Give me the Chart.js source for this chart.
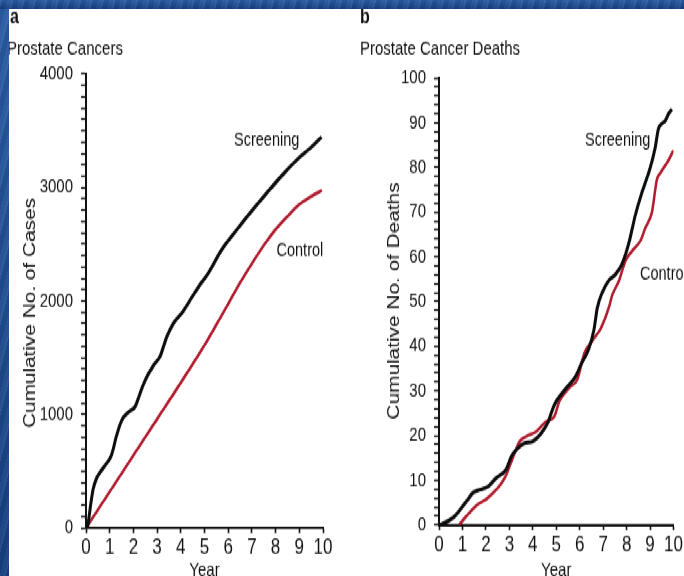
<!DOCTYPE html>
<html>
<head>
<meta charset="utf-8">
<script src="https://cdn.jsdelivr.net/npm/chart.js@4/dist/chart.umd.min.js"></script>
<style>
  html, body { margin: 0; padding: 0; }
  body { width: 684px; height: 576px; overflow: hidden; position: relative; background: #1f4f92; }
  .slide-bg, .edge-left, .edge-top {
    position: absolute;
    background-color: #1f4f92;
    background-image:
      repeating-linear-gradient(104deg, rgba(255,255,255,0.07) 0 2px, rgba(0,0,0,0.06) 2px 7px, rgba(255,255,255,0.03) 7px 11px),
      linear-gradient(180deg, #2a5da2, #173f80);
  }
  .slide-bg { inset: 0; }
  .panel { position: absolute; left: 9px; top: 9px; right: 0; bottom: 0; background: #fff; }
  /* both panels are laid out on a 443px-high stage and stretched to the slide height */
  #stage { position: absolute; left: 0; top: 0; width: 684px; height: 443px; transform: scaleY(1.3); transform-origin: 0 0; }
  #cases { position: absolute; left: 0; top: 0; }
  #deaths { position: absolute; left: 345px; top: 0; }
  .edge-left { left: 0; top: 0; width: 9px; height: 576px; }
  .edge-top { left: 0; top: 0; width: 684px; height: 9px; }
</style>
</head>
<body>
<div class="slide-bg"></div>
<div class="panel"></div>
<div id="stage">
  <canvas id="cases" width="345" height="443"></canvas>
  <canvas id="deaths" width="339" height="443"></canvas>
</div>
<div class="edge-left"></div>
<div class="edge-top"></div>
<script>
const FONT = "'Liberation Sans', Arial, Helvetica, sans-serif";
const INK = '#111';
const RED = '#b11b2e';

// Axis ticks
const yearTicks = [0, 1, 2, 3, 4, 5, 6, 7, 8, 9, 10];
const caseTickLabels = [0, 1000, 2000, 3000, 4000];
const deathTickLabels = [0, 10, 20, 30, 40, 50, 60, 70, 80, 90, 100];

// Panel a: cumulative prostate cancers
const screeningCaseYears = [0, 0.08, 0.18, 0.3, 0.45, 0.59, 0.87, 1.08, 1.29, 1.51, 1.79, 2.07, 2.28, 2.49, 2.84, 3.12, 3.4, 3.68, 4.1, 4.46, 4.8, 5.16, 5.72, 6.35, 6.92, 7.62, 8.33, 9.03, 9.45, 9.94];
const screeningCases     = [0, 30, 180, 340, 440, 490, 570, 645, 815, 950, 1020, 1070, 1185, 1300, 1430, 1510, 1680, 1800, 1910, 2030, 2140, 2245, 2450, 2625, 2775, 2950, 3120, 3270, 3345, 3445];
const controlCaseYears   = [0, 1, 2, 3, 4, 5, 5.5, 6, 6.5, 7, 7.5, 8, 8.5, 9, 9.5, 9.95];
const controlCases       = [0, 320, 640, 960, 1280, 1610, 1790, 1975, 2160, 2330, 2490, 2630, 2745, 2850, 2920, 2975];

// Panel b: cumulative prostate cancer deaths
const screeningDeathYears = [0.04, 0.6, 1.17, 1.45, 1.74, 2.09, 2.44, 2.87, 3.08, 3.29, 3.64, 3.99, 4.35, 4.63, 4.92, 5.2, 5.55, 5.83, 6.05, 6.4, 6.61, 6.75, 6.96, 7.25, 7.53, 7.81, 8.09, 8.38, 8.66, 9.01, 9.22, 9.35, 9.5, 9.65, 9.79, 9.93];
const screeningDeaths     = [0, 1.6, 5.3, 7.2, 7.9, 8.6, 10.5, 12.5, 15.3, 16.8, 18.3, 18.7, 20.5, 22.8, 26.9, 29.2, 31.4, 33.3, 35.9, 39.6, 43.8, 48.6, 52, 54.8, 56.1, 58.5, 63, 69.5, 74.5, 80, 84.5, 88.5, 89.8, 90.5, 92, 93];
const controlDeathYears   = [0.86, 1.17, 1.6, 2.02, 2.44, 2.8, 3.08, 3.43, 3.71, 4.14, 4.56, 4.92, 5.13, 5.55, 5.9, 6.19, 6.54, 6.89, 7.25, 7.39, 7.67, 7.95, 8.23, 8.59, 8.8, 9.08, 9.29, 9.44, 9.72, 10.0];
const controlDeaths       = [0, 2, 4.4, 5.8, 7.9, 10.5, 14.1, 18.6, 19.8, 20.9, 23.1, 24.3, 27.7, 30.7, 32.6, 38.3, 41.3, 43.9, 48.8, 51.5, 54.6, 59.1, 61.3, 63.6, 66.5, 70, 77.3, 78.8, 81, 83.8];

function points(xs, ys) {
  return xs.map((x, i) => ({ x, y: ys[i] }));
}

function curve(label, xs, ys, color, width) {
  return {
    label,
    data: points(xs, ys),
    borderColor: color,
    borderWidth: width,
    pointRadius: 0,
    fill: false,
    cubicInterpolationMode: 'monotone'
  };
}

// Panel letter, heading, axis titles and curve labels
function panelText(spec) {
  return {
    id: 'panelText',
    afterDraw(chart) {
      const ctx = chart.ctx;
      const xs = chart.scales.x;
      ctx.save();
      ctx.fillStyle = INK;
      ctx.textBaseline = 'alphabetic';
      ctx.textAlign = 'left';
      ctx.font = `bold 16px ${FONT}`;
      ctx.fillText(spec.letter, spec.letterX, 17.7);
      ctx.font = `15px ${FONT}`;
      ctx.fillText(spec.heading, spec.headingX, 41.5);

      ctx.textAlign = 'center';
      ctx.fillText('Year', (xs.left + xs.right) / 2, 442.5);

      ctx.save();
      ctx.translate(spec.yTitleX, spec.yTitleY);
      ctx.rotate(-Math.PI / 2);
      ctx.font = `16px ${FONT}`;
      ctx.fillText(spec.yTitle, 0, 0);
      ctx.restore();

      ctx.textAlign = 'left';
      ctx.font = `14.5px ${FONT}`;
      spec.notes.forEach(n => ctx.fillText(n.text, n.x, n.y));
      ctx.restore();
    }
  };
}

function makePanel(canvasId, cfg) {
  const yLabels = cfg.yLabels;
  return new Chart(document.getElementById(canvasId), {
    type: 'line',
    data: { datasets: cfg.datasets },
    options: {
      responsive: false,
      animation: false,
      devicePixelRatio: 1,
      layout: { autoPadding: false, padding: { left: 0, right: cfg.padRight, top: cfg.padTop, bottom: 0 } },
      plugins: { legend: { display: false }, tooltip: { enabled: false }, title: { display: false } },
      scales: {
        x: {
          type: 'linear',
          min: 0,
          max: 10,
          afterFit(scale) { scale.height = cfg.xHeight; },
          afterBuildTicks(scale) { scale.ticks = yearTicks.map(v => ({ value: v })); },
          border: { display: true, color: INK, width: 2 },
          grid: { drawOnChartArea: false, drawTicks: true, tickLength: 4, tickColor: INK, tickWidth: 1.6 },
          ticks: {
            autoSkip: false,
            maxRotation: 0,
            padding: 1,
            color: INK,
            font: { family: FONT, size: 17 },
            callback: v => String(v)
          }
        },
        y: {
          type: 'linear',
          min: 0,
          max: cfg.yMax,
          afterFit(scale) { scale.width = cfg.yWidth; },
          border: { display: true, color: INK, width: 2 },
          grid: { drawOnChartArea: false, drawTicks: true, tickLength: 5, tickColor: INK, tickWidth: 1.4 },
          ticks: {
            stepSize: cfg.minorStep,
            autoSkip: false,
            padding: 8,
            color: INK,
            font: { family: FONT, size: 15 },
            callback: v => (yLabels.includes(v) ? String(v) : '')
          }
        }
      }
    },
    plugins: [panelText(cfg.text)]
  });
}

makePanel('cases', {
  datasets: [
    curve('Screening', screeningCaseYears, screeningCases, '#0d0d0d', 3),
    curve('Control', controlCaseYears, controlCases, RED, 2.5)
  ],
  yMax: 4000,
  minorStep: 100,
  yLabels: caseTickLabels,
  yWidth: 86,
  xHeight: 36.85,
  padTop: 56.92,
  padRight: 22,
  text: {
    letter: 'a', letterX: 10,
    heading: 'Prostate Cancers', headingX: 7,
    yTitle: 'Cumulative No. of Cases', yTitleX: 35, yTitleY: 240.8,
    notes: [
      { text: 'Screening', x: 234, y: 112.3 },
      { text: 'Control', x: 276.5, y: 196.7 }
    ]
  }
});

makePanel('deaths', {
  datasets: [
    curve('Screening', screeningDeathYears, screeningDeaths, '#0d0d0d', 3),
    curve('Control', controlDeathYears, controlDeaths, RED, 2.5)
  ],
  yMax: 100,
  minorStep: 2,
  yLabels: deathTickLabels,
  yWidth: 94,
  xHeight: 39.15,
  padTop: 60,
  padRight: 9,
  text: {
    letter: 'b', letterX: 15,
    heading: 'Prostate Cancer Deaths', headingX: 15,
    yTitle: 'Cumulative No. of Deaths', yTitleX: 54.3, yTitleY: 231.5,
    notes: [
      { text: 'Screening', x: 240, y: 112 },
      { text: 'Control', x: 295, y: 215.4 }
    ]
  }
});
</script>
</body>
</html>
